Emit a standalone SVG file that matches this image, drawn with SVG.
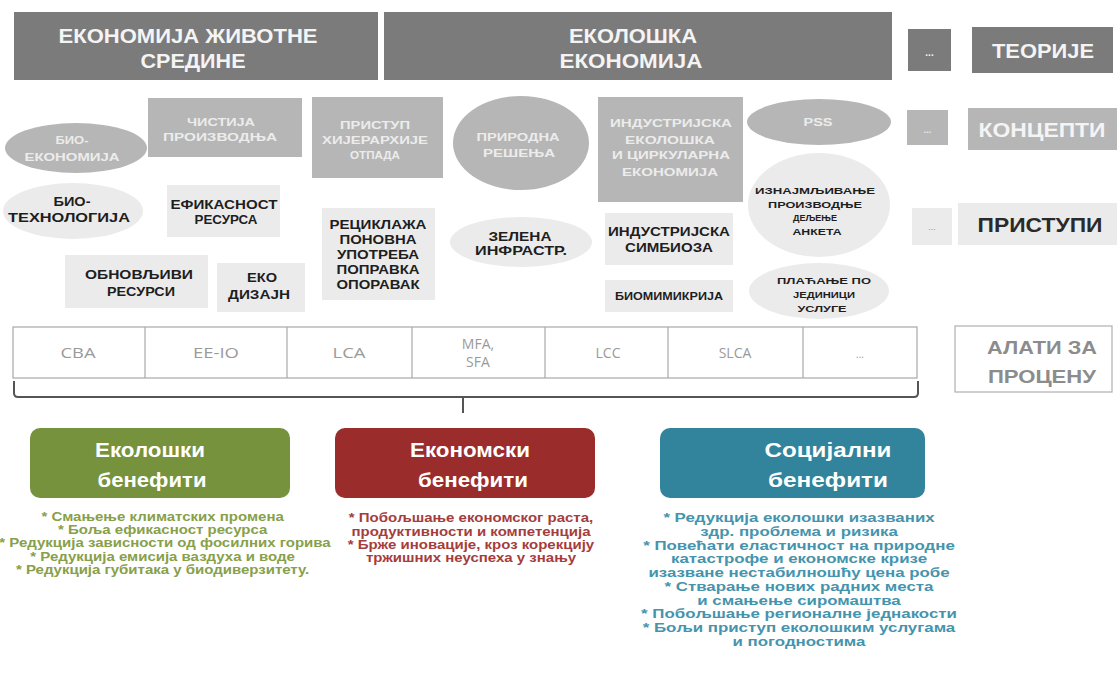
<svg xmlns="http://www.w3.org/2000/svg" width="1117" height="675" viewBox="0 0 1117 675">
<style>
.theory{fill:#7b7b7b}
.tt{font-family:"Liberation Sans",Arial,sans-serif;font-weight:bold;fill:#f4f4f4;text-anchor:middle}
.concept{fill:#b6b6b6}
.ct{font-family:"Liberation Sans",Arial,sans-serif;font-weight:bold;fill:#ececec;text-anchor:middle}
.appr{fill:#ebebeb}
.at{font-family:"Liberation Sans",Arial,sans-serif;font-weight:bold;fill:#1e1e1e;text-anchor:middle}
.tool{font-family:"Open Sans","Liberation Sans",sans-serif;fill:#9a9a9a;text-anchor:middle}
.bh{font-family:"Liberation Sans",Arial,sans-serif;font-weight:bold;fill:#ffffff;text-anchor:middle}
.bl{font-family:"Liberation Sans",Arial,sans-serif;font-weight:bold;text-anchor:middle}
</style>
<rect width="1117" height="675" fill="#ffffff"/>

<!-- Theories -->
<g id="theory-env">
<rect class="theory" x="14" y="12" width="364" height="68"/>
<text class="tt" x="188" y="43" font-size="19.5" textLength="259" lengthAdjust="spacingAndGlyphs">ЕКОНОМИЈА ЖИВОТНЕ</text>
<text class="tt" x="193" y="68" font-size="19.5" textLength="105" lengthAdjust="spacingAndGlyphs">СРЕДИНЕ</text>
</g>
<g id="theory-eco">
<rect class="theory" x="384" y="12" width="508" height="68"/>
<text class="tt" x="633" y="43" font-size="19.5" textLength="128" lengthAdjust="spacingAndGlyphs">ЕКОЛОШКА</text>
<text class="tt" x="631" y="68" font-size="19.5" textLength="143" lengthAdjust="spacingAndGlyphs">ЕКОНОМИЈА</text>
</g>
<g id="theory-more">
<rect class="theory" x="908" y="29" width="43" height="42"/>
<text class="tt" x="929.5" y="56" font-size="10">...</text>
</g>
<g id="theory-label">
<rect class="theory" x="972" y="27" width="141" height="46"/>
<text class="tt" x="1043" y="58" font-size="20" textLength="102" lengthAdjust="spacingAndGlyphs">ТЕОРИЈЕ</text>
</g>

<!-- Concepts -->
<g id="c-bioeco">
<ellipse class="concept" cx="76" cy="148" rx="71" ry="25"/>
<text class="ct" x="72" y="144" font-size="10.5" textLength="33" lengthAdjust="spacingAndGlyphs">БИО-</text>
<text class="ct" x="72" y="161" font-size="10.5" textLength="95" lengthAdjust="spacingAndGlyphs">ЕКОНОМИЈА</text>
</g>
<g id="c-cleaner">
<rect class="concept" x="148" y="98" width="154" height="59"/>
<text class="ct" x="221" y="126" font-size="10.5" textLength="68" lengthAdjust="spacingAndGlyphs">ЧИСТИЈА</text>
<text class="ct" x="220" y="141" font-size="10.5" textLength="114" lengthAdjust="spacingAndGlyphs">ПРОИЗВОДЊА</text>
</g>
<g id="c-waste">
<rect class="concept" x="312" y="97" width="131" height="81"/>
<text class="ct" x="375" y="129" font-size="10.5" textLength="70" lengthAdjust="spacingAndGlyphs">ПРИСТУП</text>
<text class="ct" x="375" y="144" font-size="10.5" textLength="106" lengthAdjust="spacingAndGlyphs">ХИЈЕРАРХИЈЕ</text>
<text class="ct" x="375" y="159" font-size="10.5" textLength="50" lengthAdjust="spacingAndGlyphs">ОТПАДА</text>
</g>
<g id="c-nature">
<ellipse class="concept" cx="521" cy="143" rx="68" ry="47"/>
<text class="ct" x="518" y="141" font-size="10.5" textLength="83" lengthAdjust="spacingAndGlyphs">ПРИРОДНА</text>
<text class="ct" x="519" y="157" font-size="10.5" textLength="72" lengthAdjust="spacingAndGlyphs">РЕШЕЊА</text>
</g>
<g id="c-indeco">
<rect class="concept" x="598" y="97" width="145" height="105"/>
<text class="ct" x="671" y="127" font-size="10.5" textLength="122" lengthAdjust="spacingAndGlyphs">ИНДУСТРИЈСКА</text>
<text class="ct" x="670" y="144" font-size="10.5" textLength="90" lengthAdjust="spacingAndGlyphs">ЕКОЛОШКА</text>
<text class="ct" x="671" y="159" font-size="10.5" textLength="118" lengthAdjust="spacingAndGlyphs">И ЦИРКУЛАРНА</text>
<text class="ct" x="670" y="176" font-size="10.5" textLength="96" lengthAdjust="spacingAndGlyphs">ЕКОНОМИЈА</text>
</g>
<g id="c-pss">
<ellipse class="concept" cx="819" cy="122" rx="72" ry="23"/>
<text class="ct" x="818" y="126" font-size="10.5" textLength="29" lengthAdjust="spacingAndGlyphs">PSS</text>
</g>
<g id="c-more">
<rect class="concept" x="907" y="110" width="41" height="35"/>
<text class="ct" x="927.5" y="133" font-size="9">...</text>
</g>
<g id="c-label">
<rect class="concept" x="968" y="108" width="149" height="42"/>
<text class="tt" x="1042" y="137" font-size="20" textLength="127" lengthAdjust="spacingAndGlyphs">КОНЦЕПТИ</text>
</g>

<!-- Approaches -->
<g id="a-biotech">
<ellipse class="appr" cx="73" cy="211" rx="70" ry="28"/>
<text class="at" x="72" y="206" font-size="12" textLength="37" lengthAdjust="spacingAndGlyphs">БИО-</text>
<text class="at" x="69" y="222" font-size="12" textLength="122" lengthAdjust="spacingAndGlyphs">ТЕХНОЛОГИЈА</text>
</g>
<g id="a-eff">
<rect class="appr" x="167" y="185" width="113" height="52"/>
<text class="at" x="224" y="209" font-size="12" textLength="107" lengthAdjust="spacingAndGlyphs">ЕФИКАСНОСТ</text>
<text class="at" x="226" y="224" font-size="12" textLength="63" lengthAdjust="spacingAndGlyphs">РЕСУРСА</text>
</g>
<g id="a-renew">
<rect class="appr" x="65" y="255" width="143" height="53"/>
<text class="at" x="139" y="279" font-size="12" textLength="108" lengthAdjust="spacingAndGlyphs">ОБНОВЉИВИ</text>
<text class="at" x="141" y="296" font-size="12" textLength="68" lengthAdjust="spacingAndGlyphs">РЕСУРСИ</text>
</g>
<g id="a-ecodesign">
<rect class="appr" x="217" y="263" width="88" height="49"/>
<text class="at" x="262" y="282" font-size="12" textLength="30" lengthAdjust="spacingAndGlyphs">ЕКО</text>
<text class="at" x="259" y="299" font-size="12" textLength="62" lengthAdjust="spacingAndGlyphs">ДИЗАЈН</text>
</g>
<g id="a-recycle">
<rect class="appr" x="322" y="208" width="113" height="92"/>
<text class="at" x="378" y="229" font-size="12" textLength="97" lengthAdjust="spacingAndGlyphs">РЕЦИКЛАЖА</text>
<text class="at" x="378" y="244" font-size="12" textLength="77" lengthAdjust="spacingAndGlyphs">ПОНОВНА</text>
<text class="at" x="378" y="259" font-size="12" textLength="82" lengthAdjust="spacingAndGlyphs">УПОТРЕБА</text>
<text class="at" x="378" y="274" font-size="12" textLength="83" lengthAdjust="spacingAndGlyphs">ПОПРАВКА</text>
<text class="at" x="378" y="289" font-size="12" textLength="83" lengthAdjust="spacingAndGlyphs">ОПОРАВАК</text>
</g>
<g id="a-green">
<ellipse class="appr" cx="521" cy="242" rx="71" ry="25"/>
<text class="at" x="520" y="241" font-size="12" textLength="63" lengthAdjust="spacingAndGlyphs">ЗЕЛЕНА</text>
<text class="at" x="521" y="255" font-size="12" textLength="92" lengthAdjust="spacingAndGlyphs">ИНФРАСТР.</text>
</g>
<g id="a-symb">
<rect class="appr" x="605" y="213" width="128" height="52"/>
<text class="at" x="669" y="236" font-size="12" textLength="122" lengthAdjust="spacingAndGlyphs">ИНДУСТРИЈСКА</text>
<text class="at" x="669" y="252" font-size="12" textLength="88" lengthAdjust="spacingAndGlyphs">СИМБИОЗА</text>
</g>
<g id="a-biomim">
<rect class="appr" x="605" y="280" width="128" height="32"/>
<text class="at" x="669" y="300" font-size="10" textLength="108" lengthAdjust="spacingAndGlyphs">БИОМИМИКРИЈА</text>
</g>
<g id="a-rent">
<ellipse class="appr" cx="819" cy="205" rx="71" ry="52"/>
<text class="at" x="815" y="194" font-size="9.5" textLength="120" lengthAdjust="spacingAndGlyphs">ИЗНАЈМЉИВАЊЕ</text>
<text class="at" x="815" y="208" font-size="9.5" textLength="94" lengthAdjust="spacingAndGlyphs">ПРОИЗВОДЊЕ</text>
<text class="at" x="815" y="221" font-size="9.5" textLength="44" lengthAdjust="spacingAndGlyphs">ДЕЉЕЊЕ</text>
<text class="at" x="817" y="235" font-size="9.5" textLength="49" lengthAdjust="spacingAndGlyphs">АНКЕТА</text>
</g>
<g id="a-pay">
<ellipse class="appr" cx="819" cy="291" rx="70" ry="28"/>
<text class="at" x="824" y="284" font-size="9.5" textLength="94" lengthAdjust="spacingAndGlyphs">ПЛАЋАЊЕ ПО</text>
<text class="at" x="824" y="298" font-size="9.5" textLength="62" lengthAdjust="spacingAndGlyphs">ЈЕДИНИЦИ</text>
<text class="at" x="822" y="312" font-size="9.5" textLength="49" lengthAdjust="spacingAndGlyphs">УСЛУГЕ</text>
</g>
<g id="a-more">
<rect class="appr" x="912" y="208" width="40" height="37"/>
<text class="at" x="932" y="230" font-size="9" style="fill:#9a9a9a;font-weight:normal">...</text>
</g>
<g id="a-label">
<rect class="appr" x="958" y="203" width="159" height="42"/>
<text class="at" x="1040" y="232" font-size="20" textLength="125" lengthAdjust="spacingAndGlyphs" style="fill:#2a2a2a">ПРИСТУПИ</text>
</g>

<!-- Tools -->
<g id="tools">
<rect x="13" y="327" width="904" height="51" fill="#ffffff" stroke="#a8a8a8" stroke-width="1.2"/>
<g stroke="#a8a8a8" stroke-width="1.2">
<line x1="145" y1="327" x2="145" y2="378"/>
<line x1="287" y1="327" x2="287" y2="378"/>
<line x1="412" y1="327" x2="412" y2="378"/>
<line x1="545" y1="327" x2="545" y2="378"/>
<line x1="668" y1="327" x2="668" y2="378"/>
<line x1="803" y1="327" x2="803" y2="378"/>
</g>
<text class="tool" x="78" y="358" font-size="14" textLength="35" lengthAdjust="spacingAndGlyphs">CBA</text>
<text class="tool" x="216" y="358" font-size="14" textLength="46" lengthAdjust="spacingAndGlyphs">EE-IO</text>
<text class="tool" x="349" y="358" font-size="14" textLength="33" lengthAdjust="spacingAndGlyphs">LCA</text>
<text class="tool" x="478" y="349" font-size="14">MFA,</text>
<text class="tool" x="478" y="367" font-size="14">SFA</text>
<text class="tool" x="608" y="358" font-size="14">LCC</text>
<text class="tool" x="735" y="358" font-size="14">SLCA</text>
<text class="tool" x="860" y="358" font-size="10">...</text>
</g>
<g id="tools-label">
<rect x="955" y="326" width="157" height="66" fill="#ffffff" stroke="#b0b0b0" stroke-width="1.2"/>
<text class="tt" x="1042" y="354" font-size="19" textLength="110" lengthAdjust="spacingAndGlyphs" style="fill:#8c8c8c">АЛАТИ ЗА</text>
<text class="tt" x="1042" y="383" font-size="19" textLength="108" lengthAdjust="spacingAndGlyphs" style="fill:#8c8c8c">ПРОЦЕНУ</text>
</g>

<!-- Bracket -->
<g id="connectors" fill="none" stroke="#555555" stroke-width="2">
<path d="M14 381 V393 Q14 397 18 397 H914 Q918 397 918 393 V381"/>
<line x1="463" y1="397" x2="463" y2="413"/>
</g>

<!-- Benefits -->
<g id="b-eco">
<rect x="30" y="428" width="260" height="70" rx="10" fill="#76923c"/>
<text class="bh" x="150" y="457" font-size="21" textLength="110" lengthAdjust="spacingAndGlyphs">Еколошки</text>
<text class="bh" x="152" y="487" font-size="21" textLength="109" lengthAdjust="spacingAndGlyphs">бенефити</text>
<g class="bl" fill="#87a04a" font-size="12.5" transform="translate(165 0) scale(1.2 1) translate(-165 0)">
<text x="163" y="521">* Смањење климатских промена</text>
<text x="163" y="534">* Боља ефикасност ресурса</text>
<text x="165" y="547">* Редукција зависности од  фосилних горива</text>
<text x="163" y="561">* Редукција емисија ваздуха и воде</text>
<text x="163" y="574">* Редукција губитака у биодиверзитету.</text>
</g>
</g>
<g id="b-econ">
<rect x="335" y="428" width="260" height="70" rx="10" fill="#9b2c2c"/>
<text class="bh" x="470" y="457" font-size="21" textLength="120" lengthAdjust="spacingAndGlyphs">Економски</text>
<text class="bh" x="473" y="487" font-size="21" textLength="110" lengthAdjust="spacingAndGlyphs">бенефити</text>
<g class="bl" fill="#a63c3c" font-size="12.5" transform="translate(471 0) scale(1.2 1) translate(-471 0)">
<text x="471" y="522">* Побољшање економског раста,</text>
<text x="471" y="536">продуктивности и компетенција</text>
<text x="471" y="549">* Брже иновације, кроз корекцију</text>
<text x="471" y="562">тржишних неуспеха у знању</text>
</g>
</g>
<g id="b-soc">
<rect x="660" y="428" width="265" height="70" rx="10" fill="#31849b"/>
<text class="bh" x="828" y="457" font-size="21" textLength="127" lengthAdjust="spacingAndGlyphs">Социјални</text>
<text class="bh" x="828" y="487" font-size="21" textLength="120" lengthAdjust="spacingAndGlyphs">бенефити</text>
<g class="bl" fill="#4594ad" font-size="12.5" transform="translate(799 0) scale(1.35 1) translate(-799 0)">
<text x="799" y="522">* Редукција еколошки изазваних</text>
<text x="799" y="536">здр. проблема и ризика</text>
<text x="799" y="550">* Повећати еластичност на природне</text>
<text x="799" y="563">катастрофе и економске кризе</text>
<text x="799" y="577">изазване нестабилношћу цена робе</text>
<text x="799" y="591">* Стварање нових радних места</text>
<text x="799" y="605">и смањење сиромаштва</text>
<text x="799" y="618">* Побољшање регионалне једнакости</text>
<text x="799" y="632">* Бољи приступ еколошким услугама</text>
<text x="799" y="646">и погодностима</text>
</g>
</g>
</svg>
